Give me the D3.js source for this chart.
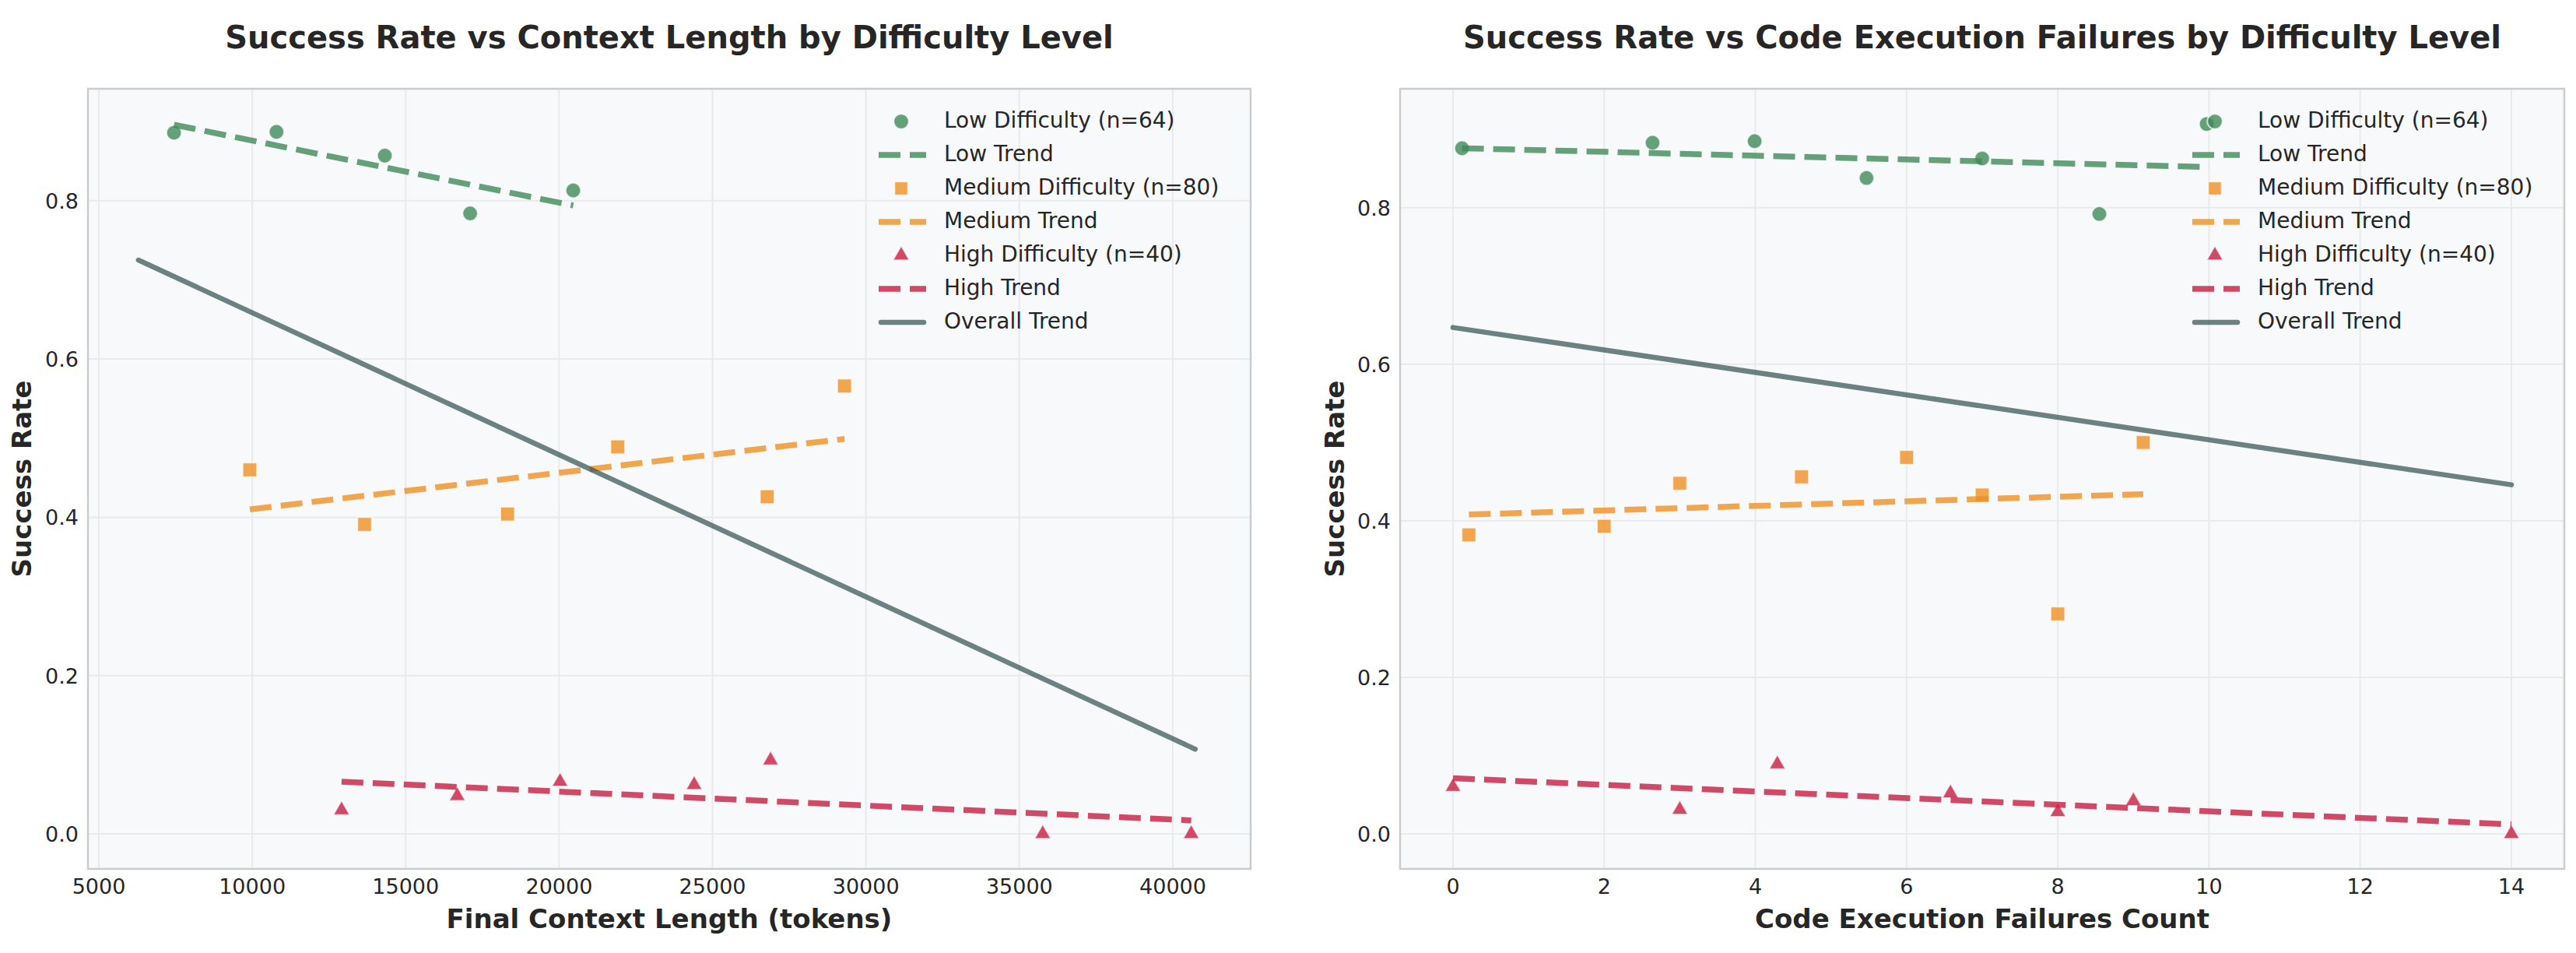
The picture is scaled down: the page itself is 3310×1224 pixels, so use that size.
<!DOCTYPE html>
<html>
<head>
<meta charset="utf-8">
<script src="https://cdn.jsdelivr.net/npm/d3@7"></script>
<style>
  body { margin: 0; background: #fff; }
  text { font-family: "DejaVu Sans", sans-serif; fill: #262626; }
</style>
</head>
<body>
<svg id="chart" width="3310" height="1224"></svg>
<script>
// ---- data ----
// left panel: success rate vs final context length
const ctxLowX = [7450, 10790, 14320, 17100, 20460];
const ctxLowY = [0.886, 0.887, 0.857, 0.784, 0.813];
const ctxMedX = [9920, 13660, 18320, 21910, 26780, 29300];
const ctxMedY = [0.460, 0.391, 0.404, 0.489, 0.426, 0.566];
const ctxHighX = [12910, 16680, 20030, 24400, 26890, 35760, 40600];
const ctxHighY = [0.030, 0.048, 0.066, 0.062, 0.093, 0.0, 0.0];
// trend endpoints [x0, y0, x1, y1]
const ctxLowTrend = [7450, 0.896, 20460, 0.794];
const ctxMedTrend = [9920, 0.410, 29300, 0.499];
const ctxHighTrend = [12910, 0.066, 40600, 0.017];
const ctxOverallTrend = [6290, 0.725, 40730, 0.107];

// right panel: success rate vs code execution failures
const failLowX = [0.12, 2.64, 3.99, 5.47, 7.0, 8.55, 9.97];
const failLowY = [0.876, 0.883, 0.885, 0.838, 0.863, 0.792, 0.907];
const failMedX = [0.21, 2.0, 3.0, 4.61, 6.0, 7.0, 8.0, 9.13];
const failMedY = [0.382, 0.393, 0.448, 0.456, 0.481, 0.433, 0.281, 0.500];
const failHighX = [0, 3.0, 4.29, 6.58, 8.0, 9.0, 14];
const failHighY = [0.060, 0.031, 0.089, 0.052, 0.028, 0.042, 0.0];
const failLowTrend = [0.12, 0.876, 10.0, 0.852];
const failMedTrend = [0.21, 0.408, 9.13, 0.434];
const failHighTrend = [0, 0.071, 14, 0.012];
const failOverallTrend = [0, 0.647, 14, 0.446];

const ctxTicks = [5000, 10000, 15000, 20000, 25000, 30000, 35000, 40000];
const failTicks = [0, 2, 4, 6, 8, 10, 12, 14];
const rateTicks = [0.0, 0.2, 0.4, 0.6, 0.8];

const groupNames = ['Low', 'Medium', 'High'];
const groupCounts = [64, 80, 40];
const groupColors = ['#3F8A59', '#EE9023', '#C61E42'];
const groupShapes = [d3.symbolCircle, d3.symbolSquare, d3.symbolTriangle];
const overallColor = '#2F4F4F';

const svg = d3.select('#chart');
const plotTop = 114, plotBottom = 1116;

function drawPanel(opt) {
  const x = d3.scaleLinear().domain(opt.xDomain).range([opt.left, opt.right]);
  const y = d3.scaleLinear().domain(opt.yDomain).range([plotBottom, plotTop]);
  const g = svg.append('g');

  g.append('rect')
    .attr('x', opt.left).attr('y', plotTop)
    .attr('width', opt.right - opt.left).attr('height', plotBottom - plotTop)
    .attr('fill', '#f8f9fa');

  // grid
  const grid = g.append('g').attr('stroke', '#e9eaeb').attr('stroke-width', 2);
  grid.selectAll('line.vx').data(opt.xTicks).join('line')
    .attr('x1', (d) => x(d)).attr('x2', (d) => x(d))
    .attr('y1', plotTop).attr('y2', plotBottom);
  grid.selectAll('line.hy').data(rateTicks).join('line')
    .attr('x1', opt.left).attr('x2', opt.right)
    .attr('y1', (d) => y(d)).attr('y2', (d) => y(d));

  // tick labels
  g.selectAll('text.xt').data(opt.xTicks).join('text')
    .attr('x', (d) => x(d)).attr('y', 1148)
    .attr('text-anchor', 'middle').attr('font-size', 27)
    .text((d) => d);
  g.selectAll('text.yt').data(rateTicks).join('text')
    .attr('x', opt.left - 12).attr('y', (d) => y(d) + 10)
    .attr('text-anchor', 'end').attr('font-size', 27)
    .text((d) => d3.format('.1f')(d));

  // axis labels + title
  const cx = (opt.left + opt.right) / 2;
  g.append('text').attr('x', cx).attr('y', 1192)
    .attr('text-anchor', 'middle').attr('font-size', 34).attr('font-weight', 'bold')
    .text(opt.xLabel);
  g.append('text')
    .attr('transform', `translate(${opt.yLabelX},${(plotTop + plotBottom) / 2}) rotate(-90)`)
    .attr('text-anchor', 'middle').attr('font-size', 34).attr('font-weight', 'bold')
    .text('Success Rate');
  g.append('text').attr('x', cx).attr('y', 62)
    .attr('text-anchor', 'middle').attr('font-size', 40).attr('font-weight', 'bold')
    .text(opt.title);

  // groups: scatter then its trend
  opt.groups.forEach((grp, i) => {
    const sym = d3.symbol().type(groupShapes[i]).size(i === 1 ? 340 : (i === 0 ? 300 : 200));
    g.append('g').selectAll('path').data(d3.zip(grp.xs, grp.ys)).join('path')
      .attr('d', sym)
      .attr('transform', (d) => `translate(${x(d[0])},${y(d[1])})`)
      .attr('fill', groupColors[i]).attr('fill-opacity', 0.8)
      .attr('stroke', '#fff').attr('stroke-opacity', 0.7).attr('stroke-width', 2);
    const t = grp.trend;
    g.append('line')
      .attr('x1', x(t[0])).attr('y1', y(t[1])).attr('x2', x(t[2])).attr('y2', y(t[3]))
      .attr('stroke', groupColors[i]).attr('stroke-opacity', 0.8)
      .attr('stroke-width', 7.5).attr('stroke-dasharray', '28 12');
  });
  const o = opt.overall;
  g.append('line')
    .attr('x1', x(o[0])).attr('y1', y(o[1])).attr('x2', x(o[2])).attr('y2', y(o[3]))
    .attr('stroke', overallColor).attr('stroke-opacity', 0.7)
    .attr('stroke-width', 6.5).attr('stroke-linecap', 'round');

  // spines
  g.append('rect')
    .attr('x', opt.left).attr('y', plotTop)
    .attr('width', opt.right - opt.left).attr('height', plotBottom - plotTop)
    .attr('fill', 'none').attr('stroke', '#cccccc').attr('stroke-width', 2.5);

  // legend
  const lg = g.append('g');
  const mx = opt.right - 449, lx0 = opt.right - 478, lx1 = opt.right - 417, tx = opt.right - 394;
  const rows = [];
  groupNames.forEach((n, i) => {
    rows.push({ kind: 'marker', i, label: `${n} Difficulty (n=${groupCounts[i]})` });
    rows.push({ kind: 'dash', i, label: `${n} Trend` });
  });
  rows.push({ kind: 'overall', label: 'Overall Trend' });
  rows.forEach((r, k) => {
    const ry = 156 + k * 43;
    if (r.kind === 'marker') {
      const sym = d3.symbol().type(groupShapes[r.i]).size(r.i === 1 ? 300 : (r.i === 0 ? 300 : 200));
      lg.append('path').attr('d', sym).attr('transform', `translate(${mx},${ry})`)
        .attr('fill', groupColors[r.i]).attr('fill-opacity', 0.8)
        .attr('stroke', '#fff').attr('stroke-opacity', 0.7).attr('stroke-width', 2);
    } else if (r.kind === 'dash') {
      lg.append('line').attr('x1', lx0).attr('x2', lx1).attr('y1', ry).attr('y2', ry)
        .attr('stroke', groupColors[r.i]).attr('stroke-opacity', 0.8)
        .attr('stroke-width', 7.5).attr('stroke-dasharray', '28 12');
    } else {
      lg.append('line').attr('x1', lx0 + 3).attr('x2', lx1 - 3).attr('y1', ry).attr('y2', ry)
        .attr('stroke', overallColor).attr('stroke-opacity', 0.7)
        .attr('stroke-width', 6.5).attr('stroke-linecap', 'round');
    }
    lg.append('text').attr('x', tx).attr('y', ry + 7.5).attr('font-size', 28).text(r.label);
  });
}

drawPanel({
  left: 113, right: 1607,
  xDomain: [4645, 42536], yDomain: [-0.0443, 0.9415],
  xTicks: ctxTicks, yLabelX: 40,
  title: 'Success Rate vs Context Length by Difficulty Level',
  xLabel: 'Final Context Length (tokens)',
  groups: [
    { xs: ctxLowX, ys: ctxLowY, trend: ctxLowTrend },
    { xs: ctxMedX, ys: ctxMedY, trend: ctxMedTrend },
    { xs: ctxHighX, ys: ctxHighY, trend: ctxHighTrend },
  ],
  overall: ctxOverallTrend,
});

drawPanel({
  left: 1799, right: 3295,
  xDomain: [-0.7, 14.7], yDomain: [-0.0448, 0.952],
  xTicks: failTicks, yLabelX: 1727,
  title: 'Success Rate vs Code Execution Failures by Difficulty Level',
  xLabel: 'Code Execution Failures Count',
  groups: [
    { xs: failLowX, ys: failLowY, trend: failLowTrend },
    { xs: failMedX, ys: failMedY, trend: failMedTrend },
    { xs: failHighX, ys: failHighY, trend: failHighTrend },
  ],
  overall: failOverallTrend,
});
</script>
</body>
</html>
